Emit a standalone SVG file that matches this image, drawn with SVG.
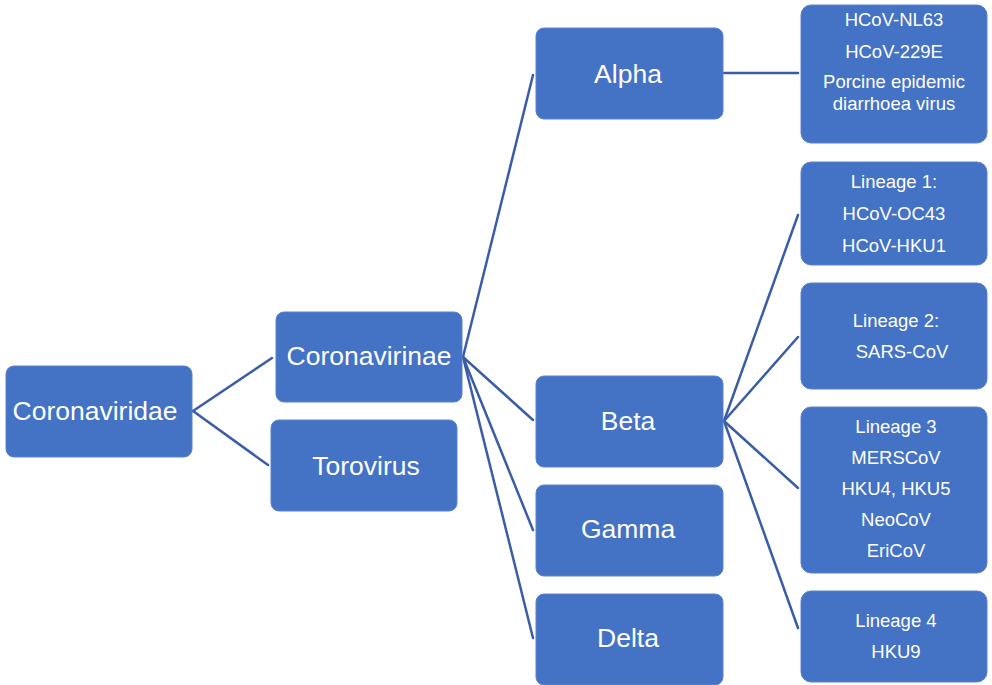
<svg xmlns="http://www.w3.org/2000/svg" width="992" height="685" viewBox="0 0 992 685">
<style>
.box{fill:#4472C4;stroke:#5B82CC;stroke-width:1}
.big{font-family:"Liberation Sans",Arial,sans-serif;font-size:26.5px;fill:#FFFFFF;text-anchor:middle}
.sm{font-family:"Liberation Sans",Arial,sans-serif;font-size:18.5px;fill:#FFFFFF;text-anchor:middle}
.ln{stroke:#3A5DA6;stroke-width:2.5;fill:none;stroke-linecap:round}
</style>
<rect width="992" height="685" fill="#FFFFFF"/>
<g id="connectors">
<line class="ln" x1="193" y1="411" x2="272" y2="358"/>
<line class="ln" x1="193" y1="411" x2="268" y2="465"/>
<line class="ln" x1="463" y1="357" x2="533" y2="75"/>
<line class="ln" x1="463" y1="357" x2="533" y2="420"/>
<line class="ln" x1="463" y1="357" x2="533" y2="530"/>
<line class="ln" x1="463" y1="357" x2="533" y2="638"/>
<line class="ln" x1="724" y1="73" x2="798" y2="73"/>
<line class="ln" x1="724" y1="421" x2="798" y2="215"/>
<line class="ln" x1="724" y1="421" x2="798" y2="337"/>
<line class="ln" x1="724" y1="421" x2="798" y2="488"/>
<line class="ln" x1="724" y1="421" x2="798" y2="628"/>
</g>
<g id="coronaviridae">
<rect class="box" x="6" y="366" width="186" height="91" rx="8"/>
<text class="big" x="95" y="420">Coronaviridae</text>
</g>
<g id="coronavirinae">
<rect class="box" x="276" y="312" width="186" height="90" rx="8"/>
<text class="big" x="369" y="365">Coronavirinae</text>
</g>
<g id="torovirus">
<rect class="box" x="271" y="420" width="186" height="91" rx="8"/>
<text class="big" x="366" y="475">Torovirus</text>
</g>
<g id="alpha">
<rect class="box" x="536" y="28" width="187" height="91" rx="8"/>
<text class="big" x="628" y="83">Alpha</text>
</g>
<g id="beta">
<rect class="box" x="536" y="376" width="187" height="91" rx="8"/>
<text class="big" x="628" y="430">Beta</text>
</g>
<g id="gamma">
<rect class="box" x="536" y="485" width="187" height="91" rx="8"/>
<text class="big" x="628" y="538">Gamma</text>
</g>
<g id="delta">
<rect class="box" x="536" y="594" width="187" height="91" rx="8"/>
<text class="big" x="628" y="647">Delta</text>
</g>
<g id="alpha-species">
<rect class="box" x="801" y="5" width="186" height="138" rx="10"/>
<text class="sm" x="894" y="26">HCoV-NL63</text>
<text class="sm" x="894" y="58">HCoV-229E</text>
<text class="sm" x="894" y="88">Porcine epidemic</text>
<text class="sm" x="894" y="110">diarrhoea virus</text>
</g>
<g id="lineage1">
<rect class="box" x="801" y="162" width="186" height="103" rx="10"/>
<text class="sm" x="894" y="188">Lineage 1:</text>
<text class="sm" x="894" y="220">HCoV-OC43</text>
<text class="sm" x="894" y="252">HCoV-HKU1</text>
</g>
<g id="lineage2">
<rect class="box" x="801" y="283" width="186" height="106" rx="10"/>
<text class="sm" x="896" y="327">Lineage 2:</text>
<text class="sm" x="902" y="358">SARS-CoV</text>
</g>
<g id="lineage3">
<rect class="box" x="801" y="407" width="186" height="166" rx="10"/>
<text class="sm" x="896" y="433">Lineage 3</text>
<text class="sm" x="896" y="464">MERSCoV</text>
<text class="sm" x="896" y="495">HKU4, HKU5</text>
<text class="sm" x="896" y="526">NeoCoV</text>
<text class="sm" x="896" y="557">EriCoV</text>
</g>
<g id="lineage4">
<rect class="box" x="801" y="591" width="186" height="91" rx="10"/>
<text class="sm" x="896" y="627">Lineage 4</text>
<text class="sm" x="896" y="658">HKU9</text>
</g>
</svg>
